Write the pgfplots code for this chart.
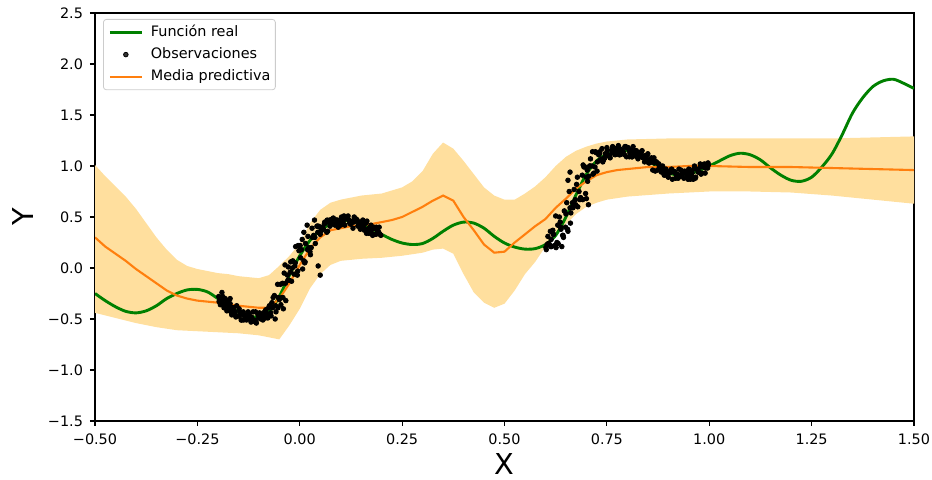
\documentclass[border=0pt]{standalone}
\usepackage{fontspec}
\setmainfont{DejaVu Sans}
\usepackage{pgfplots}
\pgfplotsset{compat=1.18}
\usepgfplotslibrary{fillbetween}

\definecolor{verde}{RGB}{0,128,0}
\definecolor{naranja}{RGB}{255,127,14}
\definecolor{banda}{RGB}{255,223,158}

% funcion real
\pgfplotstableread{
x y
-0.500 -0.25
-0.475 -0.32
-0.450 -0.38
-0.425 -0.425
-0.400 -0.44
-0.375 -0.42
-0.350 -0.37
-0.325 -0.30
-0.300 -0.25
-0.275 -0.215
-0.250 -0.21
-0.225 -0.235
-0.200 -0.30
-0.175 -0.37
-0.150 -0.43
-0.125 -0.47
-0.100 -0.48
-0.075 -0.43
-0.050 -0.28
-0.025 -0.07
0.000 0.12
0.025 0.27
0.050 0.37
0.075 0.43
0.100 0.46
0.125 0.46
0.150 0.43
0.175 0.39
0.200 0.33
0.225 0.28
0.250 0.245
0.275 0.23
0.300 0.24
0.325 0.29
0.350 0.36
0.375 0.42
0.400 0.45
0.425 0.44
0.450 0.39
0.475 0.31
0.500 0.245
0.525 0.205
0.550 0.185
0.575 0.19
0.600 0.23
0.625 0.32
0.650 0.50
0.675 0.72
0.700 0.92
0.725 1.05
0.750 1.115
0.775 1.145
0.800 1.15
0.825 1.125
0.850 1.06
0.875 0.985
0.900 0.93
0.925 0.913
0.950 0.92
0.975 0.955
1.000 1.00
1.025 1.05
1.050 1.10
1.075 1.125
1.100 1.11
1.125 1.06
1.150 0.98
1.175 0.91
1.200 0.86
1.225 0.85
1.250 0.89
1.275 0.99
1.300 1.12
1.325 1.31
1.350 1.52
1.375 1.67
1.400 1.78
1.425 1.835
1.450 1.85
1.475 1.81
1.500 1.76
}\real

% media predictiva
\pgfplotstableread{
x y
-0.500 0.30
-0.475 0.21
-0.450 0.14
-0.425 0.07
-0.400 -0.01
-0.375 -0.08
-0.350 -0.15
-0.325 -0.22
-0.300 -0.27
-0.275 -0.30
-0.250 -0.32
-0.225 -0.33
-0.200 -0.34
-0.175 -0.355
-0.150 -0.37
-0.125 -0.38
-0.100 -0.39
-0.075 -0.39
-0.050 -0.30
-0.025 -0.15
0.000 0.03
0.025 0.19
0.050 0.30
0.075 0.37
0.100 0.39
0.125 0.41
0.150 0.42
0.175 0.43
0.200 0.45
0.225 0.47
0.250 0.50
0.275 0.55
0.300 0.60
0.325 0.66
0.350 0.71
0.375 0.66
0.400 0.50
0.425 0.37
0.450 0.23
0.475 0.15
0.500 0.16
0.525 0.25
0.550 0.33
0.575 0.41
0.600 0.48
0.625 0.59
0.650 0.68
0.675 0.78
0.700 0.85
0.725 0.91
0.750 0.94
0.775 0.96
0.800 0.97
0.850 0.99
0.900 0.99
0.950 1.00
1.000 1.00
1.100 0.99
1.200 0.99
1.300 0.98
1.400 0.97
1.500 0.96
}\media

% banda superior
\pgfplotstableread{
x y
-0.500 1.01
-0.475 0.90
-0.450 0.80
-0.425 0.70
-0.400 0.58
-0.375 0.44
-0.350 0.30
-0.325 0.18
-0.300 0.08
-0.275 0.02
-0.250 -0.01
-0.225 -0.03
-0.200 -0.05
-0.175 -0.06
-0.150 -0.08
-0.125 -0.09
-0.100 -0.10
-0.075 -0.07
-0.050 0.02
-0.025 0.12
0.000 0.24
0.025 0.44
0.050 0.57
0.075 0.64
0.100 0.67
0.125 0.69
0.150 0.71
0.175 0.72
0.200 0.73
0.225 0.76
0.250 0.79
0.275 0.85
0.300 0.95
0.325 1.12
0.350 1.23
0.375 1.17
0.400 1.05
0.425 0.92
0.450 0.79
0.475 0.71
0.500 0.67
0.525 0.67
0.550 0.73
0.575 0.80
0.600 0.89
0.625 1.00
0.650 1.09
0.675 1.15
0.700 1.19
0.725 1.22
0.750 1.24
0.800 1.26
0.900 1.27
1.000 1.27
1.100 1.27
1.200 1.27
1.300 1.27
1.400 1.28
1.500 1.29
}\sup

% banda inferior
\pgfplotstableread{
x y
-0.500 -0.44
-0.450 -0.49
-0.400 -0.54
-0.350 -0.58
-0.300 -0.61
-0.250 -0.62
-0.200 -0.63
-0.150 -0.64
-0.100 -0.66
-0.075 -0.68
-0.050 -0.70
-0.025 -0.56
0.000 -0.40
0.025 -0.20
0.050 -0.06
0.075 0.03
0.100 0.07
0.150 0.09
0.200 0.10
0.250 0.12
0.300 0.15
0.325 0.18
0.350 0.19
0.375 0.14
0.400 -0.06
0.425 -0.24
0.450 -0.34
0.475 -0.39
0.500 -0.35
0.525 -0.22
0.550 -0.06
0.575 0.06
0.600 0.21
0.625 0.33
0.650 0.43
0.675 0.53
0.700 0.60
0.725 0.64
0.750 0.67
0.800 0.70
0.900 0.73
1.000 0.75
1.100 0.75
1.200 0.74
1.300 0.71
1.400 0.67
1.500 0.63
}\inf

% observaciones
\pgfplotstableread{
x y
-0.198 -0.28
-0.194 -0.36
-0.190 -0.32
-0.186 -0.36
-0.182 -0.30
-0.178 -0.42
-0.174 -0.38
-0.170 -0.35
-0.166 -0.46
-0.162 -0.39
-0.158 -0.43
-0.154 -0.37
-0.150 -0.47
-0.146 -0.43
-0.142 -0.51
-0.138 -0.43
-0.134 -0.46
-0.130 -0.51
-0.126 -0.43
-0.122 -0.50
-0.118 -0.48
-0.114 -0.43
-0.110 -0.51
-0.106 -0.54
-0.102 -0.46
-0.098 -0.44
-0.094 -0.48
-0.090 -0.51
-0.086 -0.43
-0.082 -0.44
-0.078 -0.49
-0.074 -0.37
-0.070 -0.47
-0.066 -0.39
-0.062 -0.27
-0.058 -0.43
-0.054 -0.16
-0.050 -0.31
-0.046 -0.36
-0.042 -0.15
-0.038 -0.05
-0.034 -0.32
-0.030 -0.07
-0.026 -0.12
-0.022 0.06
-0.018 0.00
-0.014 -0.06
-0.010 0.21
-0.006 -0.07
-0.002 0.17
0.002 0.10
0.006 0.28
0.010 0.07
0.014 0.24
0.018 0.42
0.022 0.20
0.026 0.13
0.030 0.39
0.034 0.32
0.038 0.24
0.042 0.41
0.046 0.41
0.050 0.33
0.054 0.39
0.058 0.38
0.062 0.44
0.066 0.35
0.070 0.45
0.074 0.41
0.078 0.44
0.082 0.49
0.086 0.42
0.090 0.47
0.094 0.40
0.098 0.47
0.102 0.50
0.106 0.45
0.110 0.42
0.114 0.49
0.118 0.51
0.122 0.44
0.126 0.45
0.130 0.39
0.134 0.47
0.138 0.48
0.142 0.41
0.146 0.44
0.150 0.42
0.154 0.47
0.158 0.37
0.162 0.44
0.166 0.38
0.170 0.39
0.174 0.42
0.178 0.32
0.182 0.39
0.186 0.33
0.190 0.36
0.194 0.40
0.198 0.32
-0.196 -0.32
-0.188 -0.28
-0.180 -0.35
-0.172 -0.41
-0.164 -0.39
-0.156 -0.48
-0.148 -0.40
-0.140 -0.46
-0.132 -0.49
-0.124 -0.45
-0.116 -0.52
-0.108 -0.43
-0.100 -0.49
-0.092 -0.46
-0.084 -0.49
-0.076 -0.39
-0.068 -0.34
-0.060 -0.50
-0.052 -0.29
-0.044 -0.29
-0.036 0.03
-0.028 0.01
-0.020 -0.13
-0.012 0.02
-0.004 0.22
0.004 0.18
0.012 0.05
0.020 0.31
0.028 0.20
0.036 0.47
0.044 0.35
0.052 0.36
0.060 0.43
0.068 0.36
0.076 0.47
0.084 0.43
0.092 0.46
0.100 0.42
0.108 0.51
0.116 0.48
0.124 0.43
0.132 0.45
0.140 0.47
0.148 0.38
0.156 0.40
0.164 0.46
0.172 0.40
0.180 0.33
0.188 0.39
0.196 0.33
-0.197 -0.33
-0.191 -0.34
-0.185 -0.39
-0.179 -0.34
-0.173 -0.32
-0.167 -0.44
-0.161 -0.42
-0.155 -0.47
-0.149 -0.47
-0.143 -0.51
-0.137 -0.51
-0.131 -0.49
-0.125 -0.49
-0.119 -0.53
-0.113 -0.52
-0.107 -0.53
-0.101 -0.45
-0.095 -0.50
-0.089 -0.46
-0.083 -0.41
-0.077 -0.46
-0.071 -0.44
-0.065 -0.29
-0.059 -0.37
-0.053 -0.39
-0.047 -0.16
-0.041 -0.29
-0.035 -0.15
-0.029 -0.12
-0.023 -0.04
-0.017 0.07
-0.011 0.05
-0.005 -0.03
0.001 0.22
0.007 -0.01
0.013 0.06
0.019 0.18
0.025 0.16
0.031 0.30
0.037 0.30
0.043 0.41
0.049 0.40
0.055 0.40
0.061 0.45
0.067 0.47
0.073 0.47
0.079 0.48
0.085 0.43
0.091 0.47
0.097 0.43
0.103 0.47
0.109 0.48
0.115 0.49
0.121 0.47
0.127 0.45
0.133 0.50
0.139 0.46
0.145 0.45
0.151 0.45
0.157 0.43
0.163 0.34
0.169 0.34
0.175 0.37
0.181 0.40
0.187 0.40
0.193 0.35
-0.190 -0.24
-0.170 -0.30
0.050 -0.07
0.045 0.02
-0.040 -0.40
0.010 0.35
0.602 0.18
0.606 0.31
0.610 0.23
0.614 0.28
0.618 0.37
0.622 0.22
0.626 0.20
0.630 0.42
0.634 0.50
0.638 0.38
0.642 0.32
0.646 0.56
0.650 0.53
0.654 0.38
0.658 0.75
0.662 0.54
0.666 0.64
0.670 0.77
0.674 0.62
0.678 0.89
0.682 0.75
0.686 0.69
0.690 0.91
0.694 0.99
0.698 0.73
0.702 0.96
0.706 0.90
0.710 1.07
0.714 1.00
0.718 0.93
0.722 1.14
0.726 0.95
0.730 1.11
0.734 1.06
0.738 1.17
0.742 1.06
0.746 1.12
0.750 1.18
0.754 1.10
0.758 1.08
0.762 1.16
0.766 1.14
0.770 1.11
0.774 1.16
0.778 1.20
0.782 1.11
0.786 1.16
0.790 1.14
0.794 1.19
0.798 1.09
0.802 1.18
0.806 1.13
0.810 1.15
0.814 1.19
0.818 1.11
0.822 1.15
0.826 1.07
0.830 1.12
0.834 1.14
0.838 1.08
0.842 1.04
0.846 1.10
0.850 1.12
0.854 1.03
0.858 1.04
0.862 0.96
0.866 1.03
0.870 1.04
0.874 0.96
0.878 0.99
0.882 0.95
0.886 1.00
0.890 0.91
0.894 0.97
0.898 0.91
0.902 0.93
0.906 0.96
0.910 0.87
0.914 0.94
0.918 0.88
0.922 0.92
0.926 0.97
0.930 0.90
0.934 0.94
0.938 0.88
0.942 0.93
0.946 0.90
0.950 0.97
0.954 0.87
0.958 0.93
0.962 0.97
0.966 0.88
0.970 0.97
0.974 0.94
0.978 1.02
0.982 0.93
0.986 0.99
0.990 0.93
0.994 1.02
0.998 1.01
0.604 0.23
0.612 0.36
0.620 0.33
0.628 0.25
0.636 0.45
0.644 0.30
0.652 0.64
0.660 0.59
0.668 0.60
0.676 0.82
0.684 0.67
0.692 1.01
0.700 0.89
0.708 1.00
0.716 0.92
0.724 1.13
0.732 1.12
0.740 1.04
0.748 1.11
0.756 1.10
0.764 1.19
0.772 1.17
0.780 1.11
0.788 1.14
0.796 1.19
0.804 1.16
0.812 1.09
0.820 1.15
0.828 1.09
0.836 1.15
0.844 1.08
0.852 1.03
0.860 1.06
0.868 0.95
0.876 1.02
0.884 0.95
0.892 0.95
0.900 0.89
0.908 0.97
0.916 0.94
0.924 0.88
0.932 0.91
0.940 0.95
0.948 0.87
0.956 0.91
0.964 1.00
0.972 0.96
0.980 0.92
0.988 1.02
0.996 0.98
0.601 0.20
0.607 0.24
0.613 0.21
0.619 0.33
0.625 0.51
0.631 0.24
0.637 0.40
0.643 0.32
0.649 0.40
0.655 0.36
0.661 0.44
0.667 0.59
0.673 0.67
0.679 0.60
0.685 0.68
0.691 0.67
0.697 0.99
0.703 0.85
0.709 1.00
0.715 1.14
0.721 0.99
0.727 1.04
0.733 1.14
0.739 1.07
0.745 1.08
0.751 1.15
0.757 1.10
0.763 1.13
0.769 1.13
0.775 1.14
0.781 1.17
0.787 1.15
0.793 1.11
0.799 1.18
0.805 1.09
0.811 1.09
0.817 1.12
0.823 1.09
0.829 1.11
0.835 1.09
0.841 1.10
0.847 1.10
0.853 1.06
0.859 1.08
0.865 1.08
0.871 1.04
0.877 1.02
0.883 0.94
0.889 0.97
0.895 0.91
0.901 0.94
0.907 0.94
0.913 0.95
0.919 0.92
0.925 0.91
0.931 0.96
0.937 0.93
0.943 0.93
0.949 0.94
0.955 0.94
0.961 0.87
0.967 0.89
0.973 0.94
0.979 0.99
0.985 1.01
0.991 0.98
0.997 1.03
0.660 0.94
0.655 0.86
0.700 0.68
0.705 0.62
0.640 0.21
0.615 0.21
}\obs

\begin{document}
\begin{tikzpicture}
\begin{axis}[
    scale only axis,
    width=409.5pt,
    height=204pt,
    xmin=-0.5, xmax=1.5,
    ymin=-1.5, ymax=2.5,
    xtick={-0.5,-0.25,0,0.25,0.5,0.75,1,1.25,1.5},
    xticklabels={−0.50,−0.25,0.00,0.25,0.50,0.75,1.00,1.25,1.50},
    ytick={-1.5,-1,-0.5,0,0.5,1,1.5,2,2.5},
    yticklabels={−1.5,−1.0,−0.5,0.0,0.5,1.0,1.5,2.0,2.5},
    tick align=outside,
    xtick pos=bottom,
    ytick pos=left,
    major tick length=2.5pt,
    tick style={black, line width=0.55pt},
    axis line style={line width=0.55pt},
    ticklabel style={font=\fontsize{7.2}{8.6}\selectfont},
    xticklabel style={inner xsep=0pt, yshift=-0.5pt},
    xlabel={X},
    ylabel={Y},
    every axis x label/.style={at={(axis description cs:0.5,-0.0784)}, anchor=north,
        font=\fontsize{14.4}{17}\selectfont, inner sep=0pt},
    every axis y label/.style={at={(axis description cs:-0.0745,0.5)}, rotate=90, anchor=south,
        font=\fontsize{14.4}{17}\selectfont, inner sep=0pt},
    legend image code/.code={
        \draw[mark repeat=2,mark phase=2,#1] plot coordinates {(0pt,0pt) (8pt,0pt) (16pt,0pt)};
    },
    legend style={
        at={(rel axis cs:0,1)}, anchor=north west,
        xshift=4pt, yshift=-3pt,
        draw=black!20, rounded corners=1.5pt,
        fill=white, fill opacity=0.8, text opacity=1,
        font=\fontsize{7.2}{8.6}\selectfont,
        nodes={inner sep=0pt, text height=5.5pt, text depth=1.7pt},
        row sep=3.8pt, column sep=3.8pt,
        inner xsep=2.5pt, inner ysep=3pt,
        cells={anchor=west},
    },
]
\addplot[name path=sup, draw=none, forget plot] table {\sup};
\addplot[name path=inf, draw=none, forget plot] table {\inf};
\addplot[fill=banda, draw=none, forget plot] fill between[of=sup and inf];

\addplot[verde, line width=1.45pt, smooth] table {\real};
\addlegendentry{Función real}
\addplot[only marks, mark=*, mark size=1.15pt, black] table {\obs};
\addlegendentry{Observaciones}
\addplot[naranja, line width=1.05pt] table {\media};
\addlegendentry{Media predictiva}
\end{axis}
\path ([shift={(-47.5pt,-29.5pt)}]current axis.south west) rectangle ([shift={(9pt,6.5pt)}]current axis.north east);
\end{tikzpicture}
\end{document}
